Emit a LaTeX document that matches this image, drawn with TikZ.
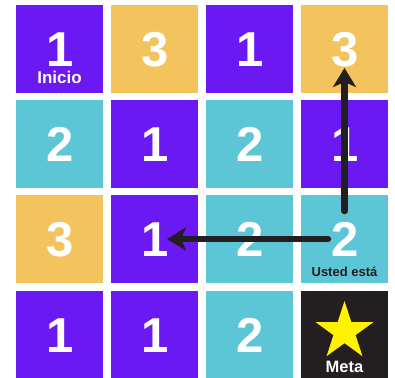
\documentclass[tikz,border=0pt]{standalone}
\usepackage{fontspec}
\setmainfont{Liberation Sans}
\usetikzlibrary{arrows.meta,shapes.geometric}
\definecolor{pur}{HTML}{6A19F2}
\definecolor{yel}{HTML}{F3C35D}
\definecolor{cya}{HTML}{5CC6D6}
\definecolor{ink}{HTML}{231F20}
\definecolor{stary}{HTML}{FFF200}
\begin{document}
\begin{tikzpicture}[x=1pt,y=-1pt,
  tile/.style={minimum width=87pt,minimum height=88pt,inner sep=0pt,anchor=north west,
    text=white,font=\fontsize{49}{49}\selectfont\bfseries},
  tp/.style={tile,fill=pur},
  ty/.style={tile,fill=yel},
  tc/.style={tile,fill=cya},
  tk/.style={tile,fill=ink},
  lab/.style={font=\fontsize{#1}{#1}\selectfont\bfseries,inner sep=0pt},
  route/.style={draw=ink,line width=6.5pt,line cap=round,
    -{Stealth[length=19pt,width=23pt,inset=5pt]}}]
\useasboundingbox[fill=white] (0,0) rectangle (395,377);
% row 1
\node[tp] (a11) at (16,5) {1};
\node[ty] (a12) at (111,5) {3};
\node[tp] (a13) at (206,5) {1};
\node[ty] (a14) at (301,5) {3};
% row 2
\node[tc] (a21) at (16,100) {2};
\node[tp] (a22) at (111,100) {1};
\node[tc] (a23) at (206,100) {2};
\node[tp] (a24) at (301,100) {1};
% row 3
\node[ty] (a31) at (16,195) {3};
\node[tp] (a32) at (111,195) {1};
\node[tc] (a33) at (206,195) {2};
\node[tc] (a34) at (301,195) {2};
% row 4
\node[tp] (a41) at (16,291) {1};
\node[tp] (a42) at (111,291) {1};
\node[tc] (a43) at (206,291) {2};
\node[tk] (a44) at (301,291) {};
% labels
\node[lab=17,text=white] (inicio) at (59.5,77) {Inicio};
\node[lab=13,text=ink] (usted) at (344.5,272) {Usted está};
\node[lab=16.5,text=white] (meta) at (344.5,367) {Meta};
\node[star,star points=5,star point ratio=2.618,minimum size=61pt,inner sep=0pt,fill=stary] (star) at (344.5,331.5) {};
% route
\coordinate (s1) at (344.5,211);
\coordinate (e1) at (344.5,68);
\coordinate (s2) at (328,239);
\coordinate (e2) at (167,239);
\draw[route] (s1) -- (e1);
\draw[route] (s2) -- (e2);
\end{tikzpicture}
\end{document}
